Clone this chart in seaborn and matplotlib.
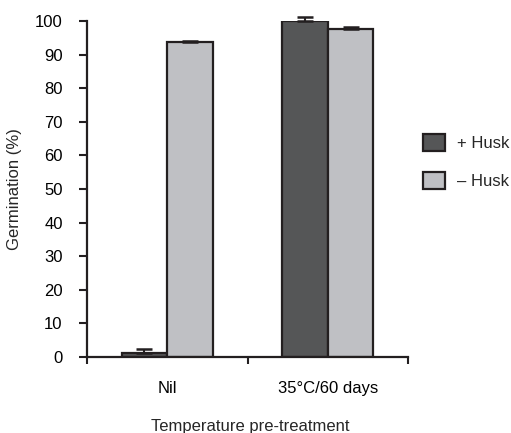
import matplotlib
matplotlib.use("Agg")
import matplotlib.pyplot as plt
import seaborn as sns
import pandas as pd
import numpy as np

categories = ["Nil", "35°C/60 days"]
husk_groups = ["+ Husk", "– Husk"]
plus_husk = [1.2, 100.0]
minus_husk = [93.7, 97.5]
plus_err = [1.1, 1.2]
minus_err = [0.2, 0.6]
yticks = [0, 10, 20, 30, 40, 50, 60, 70, 80, 90, 100]

sns.set_style("white")
plt.rcParams['font.family'] = ['Liberation Sans', 'DejaVu Sans']

df = pd.DataFrame({
    "treat": categories * 2,
    "husk": [husk_groups[0]] * 2 + [husk_groups[1]] * 2,
    "germ": plus_husk + minus_husk,
})

FS = 12
dark = "#231f20"
fig = plt.figure(figsize=(5.11, 4.33), dpi=100)
ax = fig.add_axes([87/511, 1-357/433, (408-87)/511, (357-21)/433])

sns.barplot(data=df, x="treat", y="germ", hue="husk", order=categories,
            hue_order=husk_groups, palette=["#555657", "#bfc0c4"],
            width=0.57, edgecolor=dark, linewidth=1.6, ax=ax, errorbar=None,
            saturation=1)

# error bars (upper only)
bars = list(ax.patches)[:4]
xs = [b.get_x() + b.get_width()/2 for b in bars]
vals = plus_husk + minus_husk
errs = plus_err + minus_err
eb = ax.errorbar(xs, vals, yerr=[np.zeros(4), errs], fmt="none", ecolor=dark,
                 elinewidth=1.5, capsize=5.5, capthick=1.8, zorder=5)
for art in eb.lines[1] + eb.lines[2]:
    art.set_clip_on(False)

ax.set_xlim(-0.5, 1.5)
ax.set_ylim(0, 100)
ax.set_yticks(yticks)
ax.set_yticklabels([str(t) for t in yticks], fontsize=FS, color="black")
ax.set_xticks([0, 1])
ax.set_xticklabels(categories, fontsize=FS, color="black")
ax.set_xticks([-0.5, 0.5, 1.5], minor=True)
ax.tick_params(axis="x", which="major", length=0, pad=17)
ax.tick_params(axis="x", which="minor", length=5, width=1.5, color=dark, direction="out", bottom=True)
ax.tick_params(axis="y", length=6, width=1.5, color=dark, pad=11.5, direction="out", left=True)
ax.set_xlabel("")
ax.set_ylabel("")
for s in ["top", "right"]:
    ax.spines[s].set_visible(False)
for s in ["left", "bottom"]:
    ax.spines[s].set_color(dark)
    ax.spines[s].set_linewidth(1.6)

fig.text(15/511, 1-189/433, "Germination (%)", rotation=90, ha="center", va="center", fontsize=FS)
fig.text(250/511, 1-427/433, "Temperature pre-treatment", ha="center", va="center", fontsize=FS)

ax.legend_.remove()
handles = [plt.Rectangle((0, 0), 1, 1, facecolor=c, edgecolor=dark, linewidth=1.6)
           for c in ["#555657", "#bfc0c4"]]
fig.legend(handles, husk_groups, loc="center left", bbox_to_anchor=(423/511, 1-161.5/433),
           frameon=False, fontsize=FS, handlelength=1.32, handleheight=1.2,
           handletextpad=0.72, labelspacing=1.26, borderpad=0, borderaxespad=0)

fig.savefig("out.png", dpi=100)
